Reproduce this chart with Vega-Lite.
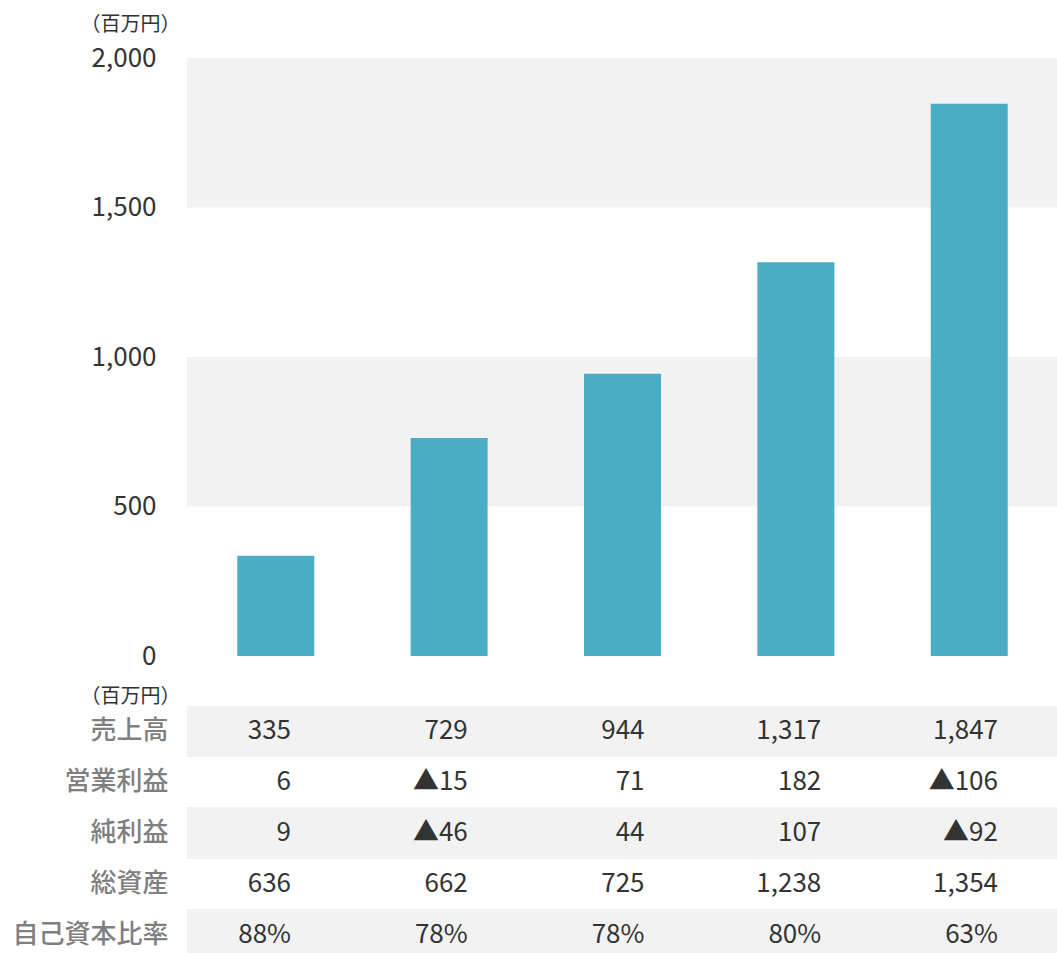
{
  "$schema": "https://vega.github.io/schema/vega-lite/v6.json",
  "padding": {"left": 11, "top": 14, "right": 0, "bottom": 0},
  "bounds": "flush",
  "spacing": 50,
  "config": {
    "font": "Noto Sans CJK JP",
    "view": {"stroke": null}
  },
  "datasets": {
    "fin": [
      {"年度": "1", "売上高": 335, "営業利益": 6, "純利益": 9, "総資産": 636, "自己資本比率": 88},
      {"年度": "2", "売上高": 729, "営業利益": -15, "純利益": -46, "総資産": 662, "自己資本比率": 78},
      {"年度": "3", "売上高": 944, "営業利益": 71, "純利益": 44, "総資産": 725, "自己資本比率": 78},
      {"年度": "4", "売上高": 1317, "営業利益": 182, "純利益": 107, "総資産": 1238, "自己資本比率": 80},
      {"年度": "5", "売上高": 1847, "営業利益": -106, "純利益": -92, "総資産": 1354, "自己資本比率": 63}
    ],
    "bands": [
      {"from": 500, "to": 1000},
      {"from": 1500, "to": 2000}
    ]
  },
  "vconcat": [
    {
      "width": 871,
      "height": 598,
      "layer": [
        {
          "data": {"name": "bands"},
          "mark": {"type": "rect", "color": "#f2f2f2"},
          "encoding": {
            "y": {
              "field": "from",
              "type": "quantitative",
              "scale": {"domain": [0, 2000], "nice": false},
              "axis": {
                "values": [0, 500, 1000, 1500, 2000],
                "format": ",.0f",
                "grid": false,
                "domain": false,
                "ticks": false,
                "labelPadding": 31,
                "labelFontSize": 26,
                "labelColor": "#333333",
                "title": "（百万円）",
                "titleAngle": 0,
                "titleAlign": "right",
                "titleBaseline": "middle",
                "titleX": -7,
                "titleY": -34,
                "titleFontSize": 20,
                "titleFontWeight": "normal",
                "titleColor": "#333333"
              }
            },
            "y2": {"field": "to"}
          }
        },
        {
          "data": {"name": "fin"},
          "mark": {"type": "bar", "color": "#4bacc6"},
          "encoding": {
            "x": {
              "field": "年度",
              "type": "nominal",
              "scale": {"paddingInner": 0.556, "paddingOuter": 0.29},
              "axis": null
            },
            "y": {"field": "売上高", "type": "quantitative"}
          }
        }
      ]
    },
    {
      "width": 871,
      "height": 254,
      "data": {"name": "fin"},
      "transform": [
        {"fold": ["売上高", "営業利益", "純利益", "総資産", "自己資本比率"], "as": ["項目", "値"]},
        {"calculate": "datum['項目'] === '自己資本比率' ? datum['値'] + '%' : (datum['値'] < 0 ? '▲' + format(-datum['値'], ',') : format(datum['値'], ','))", "as": "表示"}
      ],
      "layer": [
        {
          "transform": [{"filter": "indexof(['売上高', '純利益', '自己資本比率'], datum['項目']) >= 0"}],
          "mark": {"type": "rect", "color": "#f2f2f2"},
          "encoding": {
            "y": {
              "field": "項目",
              "type": "nominal",
              "sort": ["売上高", "営業利益", "純利益", "総資産", "自己資本比率"],
              "scale": {"domain": ["売上高", "営業利益", "純利益", "総資産", "自己資本比率"], "paddingInner": 0, "paddingOuter": 0},
              "axis": {
                "grid": false,
                "domain": false,
                "ticks": false,
                "labelPadding": 19,
                "labelFontSize": 26,
                "labelColor": "#7f7f7f",
                "labelFontWeight": 500,
                "title": "（百万円）",
                "titleAngle": 0,
                "titleAlign": "right",
                "titleBaseline": "middle",
                "titleX": -7,
                "titleY": -10,
                "titleFontSize": 20,
                "titleFontWeight": "normal",
                "titleColor": "#333333"
              }
            }
          }
        },
        {
          "mark": {"type": "text", "align": "right", "baseline": "middle", "dx": 22, "fontSize": 26, "color": "#333333"},
          "encoding": {
            "x": {
              "field": "年度",
              "type": "ordinal",
              "scale": {"type": "point", "padding": 0.464},
              "axis": null
            },
            "y": {
              "field": "項目",
              "type": "nominal",
              "sort": ["売上高", "営業利益", "純利益", "総資産", "自己資本比率"]
            },
            "text": {"field": "表示"}
          }
        }
      ]
    }
  ]
}
